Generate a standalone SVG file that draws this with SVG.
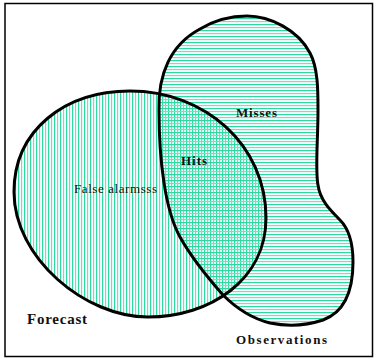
<svg xmlns="http://www.w3.org/2000/svg" width="377" height="358" viewBox="0 0 377 358">
<defs>
<pattern id="vhatch" patternUnits="userSpaceOnUse" width="6" height="6">
<rect x="0" y="0" width="1.2" height="6" fill="#2fd8a0"/>
<rect x="3" y="0" width="1.2" height="6" fill="#6fe2c0"/>
</pattern>
<pattern id="hhatch" patternUnits="userSpaceOnUse" width="6" height="6">
<rect x="0" y="0" width="6" height="1.2" fill="#2fd8a0"/>
<rect x="0" y="3" width="6" height="1.2" fill="#6fe2c0"/>
</pattern>
<path id="forecastShape" d="M130 91 C205 91 266 145 266 218 C266 280 210 317 148 317 C85 317 14 258 14 192 C14 130 65 91 130 91 Z"/>
<path id="obsShape" d="M159 110 C158 75 170 45 200 29 C215 20 230 16 247 16 C270 16 298 30 310 53 C318 68 318 90 318 110 C318 140 315 170 318 185 C320 200 330 210 340 220 C350 230 353 245 353 262 C353 290 345 312 323 320 C305 326 285 326 270 323 C250 318 233 305 223 295 C208 278 190 255 180 237 C165 210 159 160 159 110 Z"/>
</defs>
<style>
.outline{fill:none;stroke:#000;stroke-width:3}
.lbl{font-family:"Liberation Serif","Times New Roman",serif;fill:#111}
.b{font-weight:bold}
</style>
<rect x="5" y="3.5" width="367.5" height="353" fill="#fff" stroke="#000" stroke-width="1.5"/>
<g id="forecast">
<use href="#forecastShape" fill="url(#vhatch)"/>
</g>
<g id="observations">
<use href="#obsShape" fill="url(#hhatch)"/>
</g>
<g id="outlines">
<use href="#forecastShape" class="outline"/>
<use href="#obsShape" class="outline"/>
</g>
<g id="labels">
<text class="lbl b" x="236" y="117" font-size="13" textLength="41">Misses</text>
<text class="lbl b" x="181" y="165" font-size="13" textLength="26">Hits</text>
<text class="lbl" x="74" y="193" font-size="13" textLength="83" fill="#1a2340">False alarmsss</text>
<text class="lbl b" x="27" y="324" font-size="15" textLength="60">Forecast</text>
<text class="lbl b" x="236" y="344" font-size="13" textLength="91">Observations</text>
</g>
</svg>
